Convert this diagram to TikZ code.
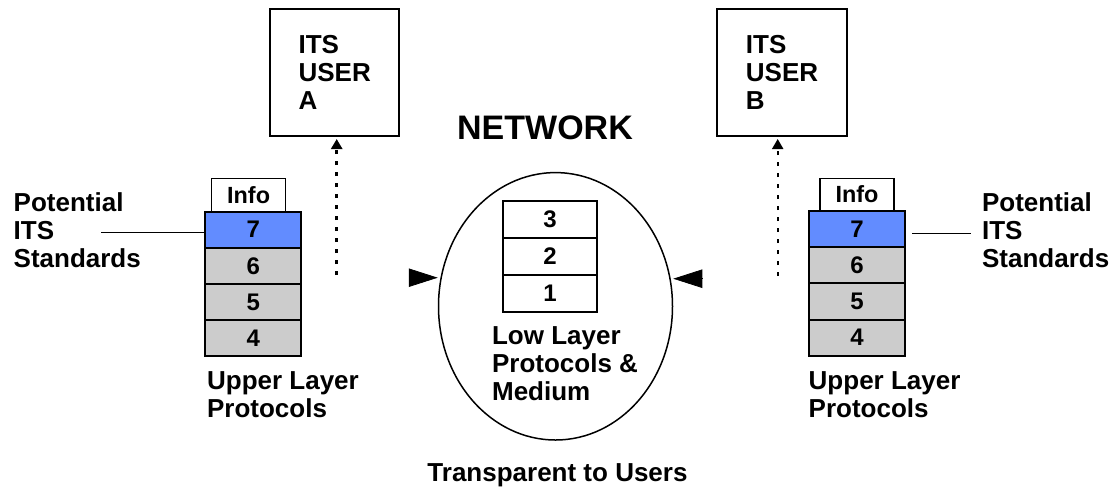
\documentclass[tikz,border=0pt]{standalone}
\usepackage{fontspec}
\setmainfont{Liberation Sans}
\usepackage{tikz}
\usetikzlibrary{shapes.geometric, positioning, arrows.meta}
\definecolor{itsBlue}{RGB}{98,140,255}
\definecolor{itsGray}{RGB}{204,204,204}

\begin{document}
\begin{tikzpicture}[x=0.5pt, y=-0.5pt,
  layer/.style={draw, line width=1pt, minimum width=48pt, minimum height=18.1pt, inner sep=0pt, outer sep=0pt, font=\fontsize{12}{14}\selectfont\bfseries},
  infobox/.style={draw, line width=0.7pt, minimum width=37pt, minimum height=16.4pt, inner sep=0pt, outer sep=0pt, fill=white, font=\fontsize{11.7}{14}\selectfont\bfseries},
  note/.style={align=left, inner sep=0pt, anchor=north west, font=\fontsize{13}{14}\selectfont\bfseries},
  user/.style={draw, line width=1pt, minimum width=64.6pt, minimum height=63.3pt, align=left, font=\fontsize{13}{14}\selectfont\bfseries},
  dotarrow/.style={-{Triangle[length=5pt,width=5.5pt]}, dash pattern=on 2pt off 3.5pt, line width=1.4pt, shorten >=1pt},
  hook/.style={line width=0.7pt},
  pointer/.style={-{Triangle[length=14.5pt,width=9.2pt]}}
]
  \useasboundingbox (0,0) rectangle (1115,488);

  % users and network title
  \node[user] (userA) at (334.7,72.7) {ITS\\USER\\A};
  \node[user] (userB) at (782,72.7) {ITS\\USER\\B};
  \node[inner sep=0pt, anchor=north, font=\fontsize{17}{20}\selectfont\bfseries] (net) at (545,115) {NETWORK};

  % left stack
  \node[layer, fill=itsBlue, anchor=north] (l7L) at (253.4,211.5) {7};
  \node[layer, fill=itsGray, below=0pt of l7L] (l6L) {6};
  \node[layer, fill=itsGray, below=0pt of l6L] (l5L) {5};
  \node[layer, fill=itsGray, below=0pt of l5L] (l4L) {4};
  \node[infobox, above=0pt of l7L, xshift=-2.4pt] (infoL) {Info};

  % right stack
  \node[layer, fill=itsBlue, anchor=north] (l7R) at (857,211) {7};
  \node[layer, fill=itsGray, below=0pt of l7R] (l6R) {6};
  \node[layer, fill=itsGray, below=0pt of l6R] (l5R) {5};
  \node[layer, fill=itsGray, below=0pt of l5R] (l4R) {4};
  \node[infobox, above=0pt of l7R] (infoR) {Info};

  % network oval
  \node[draw, ellipse, line width=0.75pt, minimum width=117pt, minimum height=133.7pt, inner sep=0pt] (netOval) at (555.5,306.3) {};
  \node[layer, minimum width=47.3pt, minimum height=18.6pt, anchor=north] (n3) at (550,200.7) {3};
  \node[layer, minimum width=47.3pt, minimum height=18.6pt, below=0pt of n3] (n2) {2};
  \node[layer, minimum width=47.3pt, minimum height=18.6pt, below=0pt of n2] (n1) {1};
  \node[note] (lowTxt) at (491.7,326.7) {Low Layer\\Protocols \&\\Medium};

  % texts
  \node[note] (potL) at (13.3,192) {Potential\\ITS\\Standards};
  \node[note] (potR) at (981.7,192) {Potential\\ITS\\Standards};
  \node[note] (upL) at (206.7,371) {Upper Layer\\Protocols};
  \node[note] (upR) at (808.3,371) {Upper Layer\\Protocols};
  \node[inner sep=0pt, anchor=north, font=\fontsize{13}{14}\selectfont\bfseries] (transp) at (557.5,463) {Transparent to Users};

  % connectors
  \coordinate (hookL) at (101,232.7);
  \coordinate (hookR) at (970.7,233.3);
  \draw[hook] (hookL) -- (hookL -| l7L.west);
  \draw[hook, shorten >=3.5pt] (hookR) -- (hookR -| l7R.east);

  \coordinate (dotA) at (336.7,275);
  \coordinate (dotB) at (777.7,276);
  \draw[dotarrow] (dotA) -- (dotA |- userA.south);
  \draw[dotarrow, line width=1pt] (dotB) -- (dotB |- userB.south);

  \coordinate (pinL) at (409.5,277.7);
  \coordinate (pinR) at (701.5,278.7);
  \draw[pointer] (pinL) -- (pinL -| netOval.west);
  \draw[pointer] (pinR) -- (pinR -| netOval.east);
\end{tikzpicture}
\end{document}
